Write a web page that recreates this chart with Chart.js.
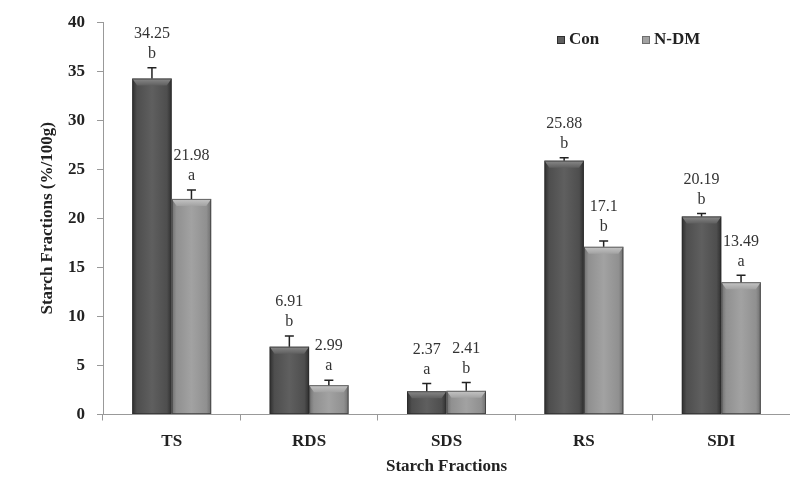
<!DOCTYPE html>
<html>
<head>
<meta charset="utf-8">
<script src="https://cdn.jsdelivr.net/npm/chart.js@4.4.1/dist/chart.umd.min.js"></script>
<style>
html,body{margin:0;padding:0;background:#fff;}
#wrap{width:790px;height:486px;position:relative;}
</style>
</head>
<body>
<div id="wrap"><canvas id="c" width="790" height="486"></canvas></div>
<script>
const categories = ['TS', 'RDS', 'SDS', 'RS', 'SDI'];
const conValues = [34.25, 6.91, 2.37, 25.88, 20.19];
const ndmValues = [21.98, 2.99, 2.41, 17.1, 13.49];
const conErrors = [1.1, 1.1, 0.8, 0.3, 0.3];
const ndmErrors = [0.9, 0.5, 0.85, 0.6, 0.7];
const conLetters = ['b', 'b', 'a', 'b', 'b'];
const ndmLetters = ['a', 'a', 'b', 'b', 'a'];
const yTicks = [0, 5, 10, 15, 20, 25, 30, 35, 40];
const seriesNames = ['Con', 'N-DM'];

const SERIF = '"Liberation Serif", "Times New Roman", serif';
const shades = [
  {edge:'#2e2e2e', mid:'#4e4e4e', center:'#5f5f5f', top:'#8a8a8a'},
  {edge:'#6e6e6e', mid:'#909090', center:'#a2a2a2', top:'#c6c6c6'}
];
const errs = [conErrors, ndmErrors];
const letters = [conLetters, ndmLetters];

const barPlugin = {
  id: 'barDeco',
  afterDatasetsDraw(chart) {
    const ctx = chart.ctx;
    const yScale = chart.scales.y;
    chart.data.datasets.forEach((ds, di) => {
      const meta = chart.getDatasetMeta(di);
      const sh = shades[di];
      meta.data.forEach((el, i) => {
        const w = el.width, x0 = el.x - w / 2, x1 = el.x + w / 2;
        const top = el.y, bot = el.base;
        ctx.save();
        const g = ctx.createLinearGradient(x0, 0, x1, 0);
        g.addColorStop(0, sh.edge);
        g.addColorStop(0.12, sh.mid);
        g.addColorStop(0.5, sh.center);
        g.addColorStop(0.88, sh.mid);
        g.addColorStop(1, sh.edge);
        ctx.fillStyle = g;
        ctx.fillRect(x0, top, w, bot - top);
        const bev = Math.min(7, (bot - top) / 2);
        const gb = ctx.createLinearGradient(0, top, 0, top + bev);
        gb.addColorStop(0, sh.top);
        gb.addColorStop(1, sh.center);
        ctx.fillStyle = gb;
        ctx.beginPath();
        ctx.moveTo(x0, top);
        ctx.lineTo(x1, top);
        ctx.lineTo(x1 - 5, top + bev);
        ctx.lineTo(x0 + 5, top + bev);
        ctx.closePath();
        ctx.fill();
        ctx.strokeStyle = 'rgba(40,40,40,0.6)';
        ctx.lineWidth = 1;
        ctx.strokeRect(x0 + 0.5, top + 0.5, w - 1, bot - top - 1);
        const v = ds.data[i];
        const yc = yScale.getPixelForValue(v + errs[di][i]);
        ctx.strokeStyle = '#222';
        ctx.lineWidth = 1.5;
        ctx.beginPath();
        ctx.moveTo(el.x, top);
        ctx.lineTo(el.x, yc);
        ctx.moveTo(el.x - 4.5, yc);
        ctx.lineTo(el.x + 4.5, yc);
        ctx.stroke();
        ctx.fillStyle = '#333';
        ctx.font = '16px ' + SERIF;
        ctx.textAlign = 'center';
        ctx.textBaseline = 'middle';
        ctx.fillText(letters[di][i], el.x, yc - 14);
        ctx.fillText(String(v), el.x, yc - 34);
        ctx.restore();
      });
    });
    ctx.save();
    ctx.font = 'bold 17px ' + SERIF;
    ctx.textBaseline = 'middle';
    ctx.textAlign = 'left';
    const legX = [557, 642];
    seriesNames.forEach((n, k) => {
      const sh = shades[k];
      ctx.fillStyle = sh.center;
      ctx.fillRect(legX[k], 36, 8, 8);
      ctx.strokeStyle = sh.edge;
      ctx.strokeRect(legX[k] + 0.5, 36.5, 7, 7);
      ctx.fillStyle = '#222';
      ctx.fillText(n, legX[k] + 12, 40);
    });
    ctx.restore();
  }
};

new Chart(document.getElementById('c'), {
  type: 'bar',
  data: {
    labels: categories,
    datasets: [
      {label: seriesNames[0], data: conValues, backgroundColor: 'rgba(0,0,0,0)', borderWidth: 0},
      {label: seriesNames[1], data: ndmValues, backgroundColor: 'rgba(0,0,0,0)', borderWidth: 0}
    ]
  },
  options: {
    responsive: false,
    animation: false,
    devicePixelRatio: 1,
    layout: {padding: {top: 17, right: 0, left: 0, bottom: 0}},
    datasets: {bar: {categoryPercentage: 0.575, barPercentage: 1}},
    plugins: {legend: {display: false}, tooltip: {enabled: false}},
    scales: {
      x: {
        grid: {display: true, drawOnChartArea: false, drawTicks: true, tickLength: 6, color: '#999', offset: true},
        border: {display: true, color: '#999', width: 1},
        ticks: {color: '#222', font: {family: SERIF, size: 17, weight: 'bold'}, padding: 11},
        title: {display: true, text: 'Starch Fractions', color: '#222', font: {family: SERIF, size: 17, weight: 'bold'}, padding: {top: 4, bottom: 9}},
        afterFit(s) { s.height = 71.5; }
      },
      y: {
        min: 0, max: 40,
        afterBuildTicks(s) { s.ticks = yTicks.map(v => ({value: v})); },
        grid: {display: true, drawOnChartArea: false, drawTicks: true, tickLength: 6, color: '#999'},
        border: {display: true, color: '#999', width: 1},
        ticks: {color: '#222', font: {family: SERIF, size: 17, weight: 'bold'}, padding: 12},
        title: {display: true, text: 'Starch Fractions (%/100g)', color: '#222', font: {family: SERIF, size: 17, weight: 'bold'}, padding: {top: 37, bottom: 0}},
        afterFit(s) { s.width = 103; }
      }
    }
  },
  plugins: [barPlugin]
});
</script>
</body>
</html>
